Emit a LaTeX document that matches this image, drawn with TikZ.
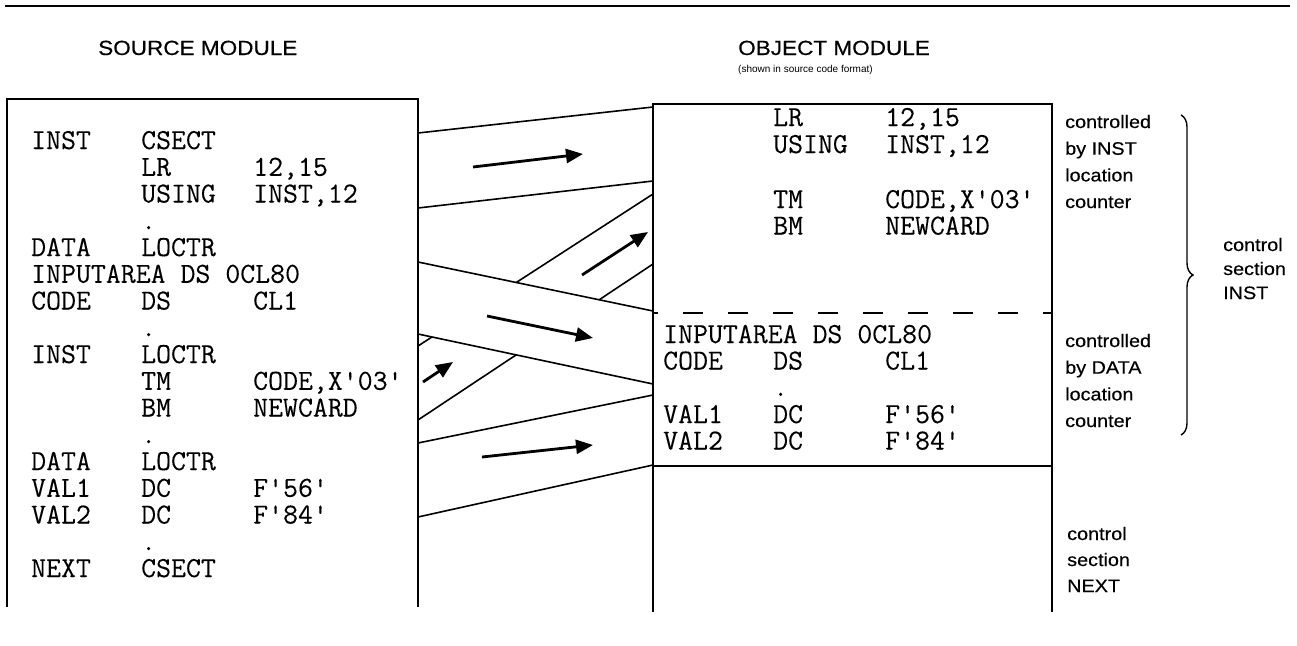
\documentclass[tikz,border=0pt]{standalone}
\usepackage{fontspec}
\setmainfont{Liberation Sans}
\newfontfamily\codefont[FakeBold=0.15]{Latin Modern Mono}
\newfontfamily\labelfont[FakeStretch=1.1,FakeBold=0.4]{Liberation Sans}
\usetikzlibrary{arrows.meta,decorations.pathreplacing,calc}
\newcommand{\q}{\char"0027\relax}
\begin{document}
\begin{tikzpicture}[x=1pt,y=-1pt,
  code/.style={anchor=base west,inner sep=0pt,font={\codefont\fontsize{29}{32}\selectfont}},
  lbl/.style={anchor=base west,inner sep=0pt,font={\labelfont\fontsize{18}{20}\selectfont}},
  ttl/.style={anchor=base west,inner sep=0pt,font={\labelfont\fontsize{20.5}{22}\selectfont}},
  note/.style={anchor=base west,inner sep=0pt,font={\fontsize{10}{12}\selectfont}},
  rule/.style={line width=1.8pt},
  boxline/.style={line width=1.8pt},
  band/.style={line width=1.6pt},
  divider/.style={line width=1.5pt,dash pattern=on 20pt off 25pt,dash phase=15pt},
  flow/.style={line width=2.8pt,-{Triangle[length=17pt,width=14pt]}},
  bracestyle/.style={line width=1.4pt,decorate,decoration={brace,amplitude=12pt}},
]
\useasboundingbox (0,0) rectangle (1297,645);

% top rule
\coordinate (r1) at (5,6);
\coordinate (r2) at (1290,6);
\draw[rule] (r1) -- (r2);

% titles
\node[ttl] (srctitle) at (98,55) {SOURCE MODULE};
\node[ttl] (objtitle) at (738,55) {OBJECT MODULE};
\node[note] (objnote) at (738,72) {(shown in source code format)};

% source box
\coordinate (sbl) at (7,607);
\coordinate (stl) at (7,99);
\coordinate (str) at (418,99);
\coordinate (sbr) at (418,607);
\draw[boxline] (sbl) -- (stl) -- (str) -- (sbr);

% object box
\coordinate (obl) at (653,612);
\coordinate (otl) at (653,104);
\coordinate (otr) at (1052,104);
\coordinate (obr) at (1052,612);
\coordinate (oml) at (653,466);
\coordinate (omr) at (1052,466);
\coordinate (odl) at (653,313);
\coordinate (odr) at (1052,313);
\draw[boxline] (obl) -- (otl) -- (otr) -- (obr);
\draw[boxline] (oml) -- (omr);
\draw[divider] (odl) -- (odr);

% source code
\node[code] (s0a) at (31,149) {INST};
\node[code] (s0b) at (141,149) {CSECT};
\node[code] (s1b) at (141,175.75) {LR};
\node[code] (s1c) at (253,175.75) {12,15};
\node[code] (s2b) at (141,202.5) {USING};
\node[code] (s2c) at (253,202.5) {INST,12};
\node[code] (s3b) at (141,229.25) {.};
\node[code] (s4a) at (31,256) {DATA};
\node[code] (s4b) at (141,256) {LOCTR};
\node[code] (s5a) at (31,282.75) {INPUTAREA DS 0CL80};
\node[code] (s6a) at (31,309.5) {CODE};
\node[code] (s6b) at (141,309.5) {DS};
\node[code] (s6c) at (253,309.5) {CL1};
\node[code] (s7b) at (141,336.25) {.};
\node[code] (s8a) at (31,363) {INST};
\node[code] (s8b) at (141,363) {LOCTR};
\node[code] (s9b) at (141,389.75) {TM};
\node[code] (s9c) at (253,389.75) {CODE,X\q03\q};
\node[code] (s10b) at (141,416.5) {BM};
\node[code] (s10c) at (253,416.5) {NEWCARD};
\node[code] (s11b) at (141,443.25) {.};
\node[code] (s12a) at (31,470) {DATA};
\node[code] (s12b) at (141,470) {LOCTR};
\node[code] (s13a) at (31,496.75) {VAL1};
\node[code] (s13b) at (141,496.75) {DC};
\node[code] (s13c) at (253,496.75) {F\q56\q};
\node[code] (s14a) at (31,523.5) {VAL2};
\node[code] (s14b) at (141,523.5) {DC};
\node[code] (s14c) at (253,523.5) {F\q84\q};
\node[code] (s15b) at (141,550.25) {.};
\node[code] (s16a) at (31,577) {NEXT};
\node[code] (s16b) at (141,577) {CSECT};

% object code
\node[code] (o1b) at (773,126) {LR};
\node[code] (o1c) at (885,126) {12,15};
\node[code] (o2b) at (773,153) {USING};
\node[code] (o2c) at (885,153) {INST,12};
\node[code] (o3b) at (773,208) {TM};
\node[code] (o3c) at (885,208) {CODE,X\q03\q};
\node[code] (o4b) at (773,234.5) {BM};
\node[code] (o4c) at (885,234.5) {NEWCARD};
\node[code] (o5a) at (663,343) {INPUTAREA DS 0CL80};
\node[code] (o6a) at (663,369.5) {CODE};
\node[code] (o6b) at (773,369.5) {DS};
\node[code] (o6c) at (885,369.5) {CL1};
\node[code] (o7b) at (773,396) {.};
\node[code] (o8a) at (663,423) {VAL1};
\node[code] (o8b) at (773,423) {DC};
\node[code] (o8c) at (885,423) {F\q56\q};
\node[code] (o9a) at (663,449.5) {VAL2};
\node[code] (o9b) at (773,449.5) {DC};
\node[code] (o9c) at (885,449.5) {F\q84\q};

% band end points
\coordinate (S1) at (418,133); \coordinate (O1) at (653,107);
\coordinate (S2) at (418,208); \coordinate (O2) at (653,181);
\coordinate (S3) at (418,262); \coordinate (O3) at (653,311);
\coordinate (S4) at (418,334); \coordinate (O4) at (653,384);
\coordinate (S5) at (418,443); \coordinate (O5) at (653,395);
\coordinate (S6) at (418,517); \coordinate (O6) at (653,465);
\coordinate (S7) at (418,346); \coordinate (O7) at (653,194);
\coordinate (S8) at (418,420); \coordinate (O8) at (653,264);
\coordinate (X1) at (intersection of S7--O7 and S4--O4);
\coordinate (X2) at (intersection of S7--O7 and S3--O3);
\coordinate (X3) at (intersection of S8--O8 and S4--O4);
\coordinate (X4) at (intersection of S8--O8 and S3--O3);

\draw[band] (S1) -- (O1);
\draw[band] (S2) -- (O2);
\draw[band] (S3) -- (O3);
\draw[band] (S4) -- (O4);
\draw[band] (S5) -- (O5);
\draw[band] (S6) -- (O6);
\draw[band] (S7) -- (X1);
\draw[band] (X2) -- (O7);
\draw[band] (S8) -- (X3);
\draw[band] (X4) -- (O8);

% flow arrows
\coordinate (a1s) at (473,167); \coordinate (a1e) at (583,154);
\coordinate (a2s) at (582,275); \coordinate (a2e) at (648,232);
\coordinate (a3s) at (487,316); \coordinate (a3e) at (593,338);
\coordinate (a4s) at (423,382); \coordinate (a4e) at (453,362);
\coordinate (a5s) at (482,457); \coordinate (a5e) at (593,445);
\draw[flow] (a1s) -- (a1e);
\draw[flow] (a2s) -- (a2e);
\draw[flow] (a3s) -- (a3e);
\draw[flow] (a4s) -- (a4e);
\draw[flow] (a5s) -- (a5e);

% right labels
\node[lbl] (c1a) at (1065,128) {controlled};
\node[lbl] (c1b) at (1065,154.7) {by INST};
\node[lbl] (c1c) at (1065,181.4) {location};
\node[lbl] (c1d) at (1065,208) {counter};
\node[lbl] (c2a) at (1065,347) {controlled};
\node[lbl] (c2b) at (1065,373.7) {by DATA};
\node[lbl] (c2c) at (1065,400.4) {location};
\node[lbl] (c2d) at (1065,427) {counter};
\node[lbl] (c3a) at (1223,251) {control};
\node[lbl] (c3b) at (1223,275) {section};
\node[lbl] (c3c) at (1223,299) {INST};
\node[lbl] (c4a) at (1067,540) {control};
\node[lbl] (c4b) at (1067,566) {section};
\node[lbl] (c4c) at (1067,592) {NEXT};

% brace
\coordinate (b1) at (1181,115);
\coordinate (b2) at (1181,435);
\draw[bracestyle] (b1) -- (b2);
\end{tikzpicture}
\end{document}
